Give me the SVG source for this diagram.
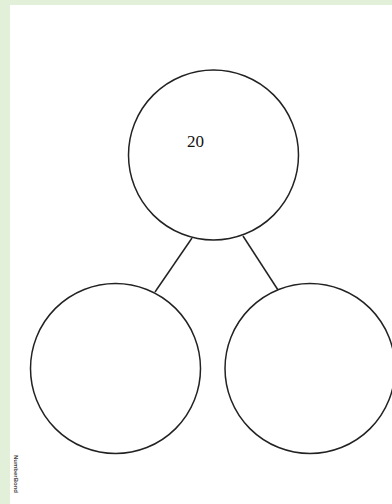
<svg xmlns="http://www.w3.org/2000/svg" width="392" height="504" viewBox="0 0 392 504">
<style>
.bond{fill:#fff;stroke:#222;stroke-width:1.5}
.link{stroke:#222;stroke-width:1.5;fill:none}
</style>
<rect x="0" y="0" width="392" height="504" fill="#fff"/>
<rect x="0" y="0" width="392" height="5" fill="#e2efd9"/>
<rect x="0" y="0" width="10" height="504" fill="#e2efd9"/>
<g id="connectors">
<line class="link" x1="192" y1="238" x2="155" y2="292"/>
<line class="link" x1="243" y1="236" x2="278" y2="290"/>
</g>
<g id="top">
<circle class="bond" cx="213.5" cy="155" r="85"/>
<text x="187" y="147" font-family="Liberation Serif, serif" font-size="17" fill="#111">20</text>
</g>
<g id="left">
<circle class="bond" cx="115.5" cy="368.5" r="85"/>
</g>
<g id="right">
<circle class="bond" cx="310" cy="368.5" r="85"/>
</g>
<text transform="translate(14,455) rotate(90)" font-family="Liberation Sans, sans-serif" font-size="6" font-weight="bold" fill="#444">NumberBond</text>
</svg>
